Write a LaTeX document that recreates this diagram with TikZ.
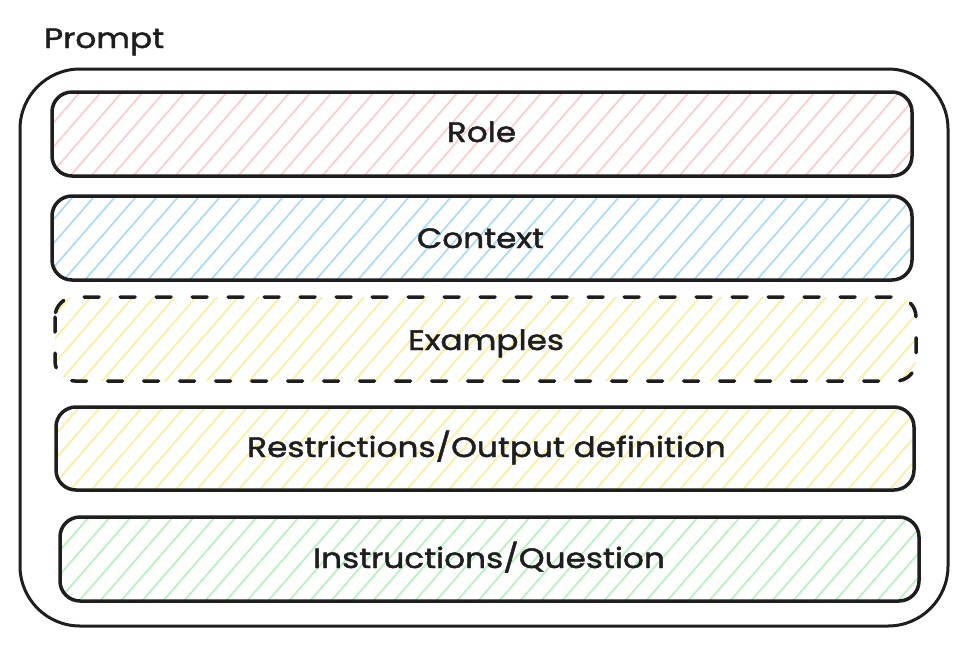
\documentclass[tikz,border=0pt]{standalone}
\usepackage{fontspec}
\setmainfont{Poppins}[FakeStretch=1.17, FakeBold=1.6]
\definecolor{ink}{HTML}{1E1E1E}
\definecolor{hred}{HTML}{FFC9C9}
\definecolor{hblue}{HTML}{A5D8FF}
\definecolor{hyellow}{HTML}{FFEC99}
\definecolor{hgreen}{HTML}{B2F2BB}
\newcommand\hatchfill[2]{%
  \begin{scope}
    \clip #2;
    \foreach \i in {-700,-679,...,1000}
      \draw[#1, line width=1.6pt] (\i,700) -- ++(608,-700);
  \end{scope}}
\tikzset{
  outerbox/.style={draw=ink, line width=3pt, rounded corners=60pt},
  layerbox/.style={draw=ink, line width=3.5pt, rounded corners=20pt},
  dashedbox/.style={draw=ink, line width=3.5pt, rounded corners=20pt, dash pattern=on 15pt off 21pt, line cap=round},
  lbl/.style={inner sep=0pt, anchor=base, text=ink, font=\fontsize{28}{32}\selectfont},
}
\begin{document}
\begin{tikzpicture}[x=1pt,y=-1pt]
\useasboundingbox (0,0) rectangle (968,645);
% hatch fills
\hatchfill{hred}{(52,92) [rounded corners=20pt] rectangle (912,176)}
\hatchfill{hblue}{(52,196) [rounded corners=20pt] rectangle (912,280)}
\hatchfill{hyellow}{(55,297) [rounded corners=20pt] rectangle (916,381)}
\hatchfill{hyellow}{(56,407) [rounded corners=20pt] rectangle (914,490)}
\hatchfill{hgreen}{(60,517) [rounded corners=20pt] rectangle (919,601)}
% outlines
\draw[outerbox] (20,69) rectangle (948,626);
\draw[layerbox] (52,92) rectangle (912,176);
\draw[layerbox] (52,196) rectangle (912,280);
\draw[dashedbox] (55,297) rectangle (916,381);
\draw[layerbox] (56,407) rectangle (914,490);
\draw[layerbox] (60,517) rectangle (919,601);
% labels
\node[lbl, anchor=base west] (prompt) at (44,48) {Prompt};
\node[lbl] (role) at (481.5,142) {Role};
\node[lbl] (context) at (480.5,248) {Context};
\node[lbl] (examples) at (486,350) {Examples};
\node[lbl] (restr) at (486.5,457) {Restrictions/Output definition};
\node[lbl] (instr) at (489,568) {Instructions/Question};
\end{tikzpicture}
\end{document}
